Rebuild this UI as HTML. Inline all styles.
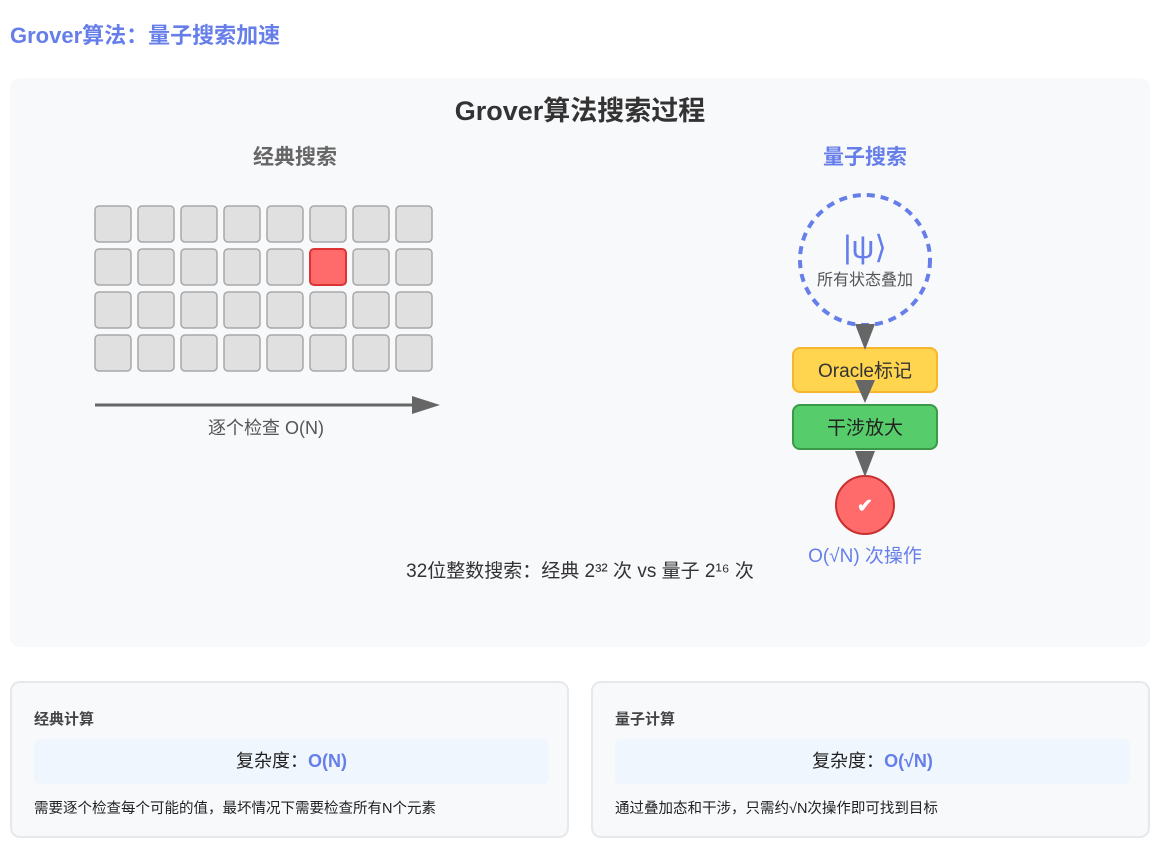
<!DOCTYPE html><html><head><meta charset="utf-8"><style>
body{margin:0;width:1167px;height:853px;background:#fff;font-family:"Liberation Sans","Noto Sans CJK SC",sans-serif;position:relative;overflow:hidden}
.a{position:absolute}
.card{position:absolute;top:681px;width:559px;height:157px;background:#f8f9fb;border:2px solid #e6e8ec;border-radius:10px;box-sizing:border-box}
.card h4{position:absolute;left:22px;top:25px;margin:0;font-size:15px;color:#444;font-weight:bold}
.card .in{position:absolute;left:22px;top:56px;width:515px;height:45px;background:#eff6fe;border-radius:6px;text-align:center;line-height:45px;font-size:18px;color:#222}
.card .in b{color:#667eea}
.card p{position:absolute;left:22px;top:114px;margin:0;font-size:14.5px;color:#222}
</style></head><body>
<div class="a" style="left:10px;top:18px;font-size:22px;font-weight:bold;color:#667eea">Grover算法：量子搜索加速</div>
<div class="a" style="left:10px;top:78px;width:1140px;height:569px;background:#f8f9fb;border-radius:10px"></div>
<svg class="a" style="left:0;top:0" width="1167" height="660" font-family="Liberation Sans, Noto Sans CJK SC, sans-serif">
<text x="580" y="120" text-anchor="middle" font-size="27" font-weight="bold" fill="#333">Grover算法搜索过程</text>
<text x="295" y="164" text-anchor="middle" font-size="21" font-weight="bold" fill="#666">经典搜索</text>
<text x="865" y="164" text-anchor="middle" font-size="21" font-weight="bold" fill="#667eea">量子搜索</text>
<g stroke="#a8a8a8" stroke-width="1.5" fill="#e0e0e0">
<rect x="95" y="206" width="36" height="36" rx="4"/><rect x="138" y="206" width="36" height="36" rx="4"/><rect x="181" y="206" width="36" height="36" rx="4"/><rect x="224" y="206" width="36" height="36" rx="4"/><rect x="267" y="206" width="36" height="36" rx="4"/><rect x="310" y="206" width="36" height="36" rx="4"/><rect x="353" y="206" width="36" height="36" rx="4"/><rect x="396" y="206" width="36" height="36" rx="4"/>
<rect x="95" y="249" width="36" height="36" rx="4"/><rect x="138" y="249" width="36" height="36" rx="4"/><rect x="181" y="249" width="36" height="36" rx="4"/><rect x="224" y="249" width="36" height="36" rx="4"/><rect x="267" y="249" width="36" height="36" rx="4"/><rect x="353" y="249" width="36" height="36" rx="4"/><rect x="396" y="249" width="36" height="36" rx="4"/>
<rect x="95" y="292" width="36" height="36" rx="4"/><rect x="138" y="292" width="36" height="36" rx="4"/><rect x="181" y="292" width="36" height="36" rx="4"/><rect x="224" y="292" width="36" height="36" rx="4"/><rect x="267" y="292" width="36" height="36" rx="4"/><rect x="310" y="292" width="36" height="36" rx="4"/><rect x="353" y="292" width="36" height="36" rx="4"/><rect x="396" y="292" width="36" height="36" rx="4"/>
<rect x="95" y="335" width="36" height="36" rx="4"/><rect x="138" y="335" width="36" height="36" rx="4"/><rect x="181" y="335" width="36" height="36" rx="4"/><rect x="224" y="335" width="36" height="36" rx="4"/><rect x="267" y="335" width="36" height="36" rx="4"/><rect x="310" y="335" width="36" height="36" rx="4"/><rect x="353" y="335" width="36" height="36" rx="4"/><rect x="396" y="335" width="36" height="36" rx="4"/>
</g>
<rect x="310" y="249" width="36" height="36" rx="4" fill="#ff6b6b" stroke="#d33" stroke-width="2"/>
<line x1="95" y1="405" x2="414" y2="405" stroke="#666" stroke-width="3"/>
<polygon points="412,396 440,405 412,414" fill="#666"/>
<text x="266" y="434" text-anchor="middle" font-size="18" fill="#555">逐个检查 O(N)</text>
<circle cx="865" cy="260" r="65" fill="none" stroke="#667eea" stroke-width="4" stroke-dasharray="8,6"/>
<text x="865" y="258" text-anchor="middle" font-size="32" fill="#667eea">|ψ⟩</text>
<text x="865" y="285" text-anchor="middle" font-size="16" fill="#555">所有状态叠加</text>
<rect x="793" y="348" width="144" height="44" rx="7" fill="#ffd54f" stroke="#f9b52b" stroke-width="2"/>
<text x="865" y="377" text-anchor="middle" font-size="19" fill="#333">Oracle标记</text>
<rect x="793" y="405" width="144" height="44" rx="7" fill="#57cc6b" stroke="#3a9a48" stroke-width="2"/>
<text x="865" y="434" text-anchor="middle" font-size="19" fill="#222">干涉放大</text>
<circle cx="865" cy="505" r="29" fill="#ff6b6b" stroke="#c83030" stroke-width="2"/>
<text x="865" y="512" text-anchor="middle" font-size="19" font-weight="bold" fill="#fff">✔</text>
<polygon points="855,324 875,324 865,350" fill="#666"/>
<polygon points="855,380 875,380 865,403" fill="#666"/>
<polygon points="855,451 875,451 865,477" fill="#666"/>
<text x="865" y="562" text-anchor="middle" font-size="19" fill="#667eea">O(√N) 次操作</text>
<text x="580" y="577" text-anchor="middle" font-size="19" fill="#333">32位整数搜索：经典 2³² 次 vs 量子 2¹⁶ 次</text>
</svg>
<div class="card" style="left:10px"><h4>经典计算</h4><div class="in">复杂度：<b>O(N)</b></div><p>需要逐个检查每个可能的值，最坏情况下需要检查所有N个元素</p></div>
<div class="card" style="left:591px"><h4>量子计算</h4><div class="in">复杂度：<b>O(√N)</b></div><p>通过叠加态和干涉，只需约√N次操作即可找到目标</p></div>
</body></html>
